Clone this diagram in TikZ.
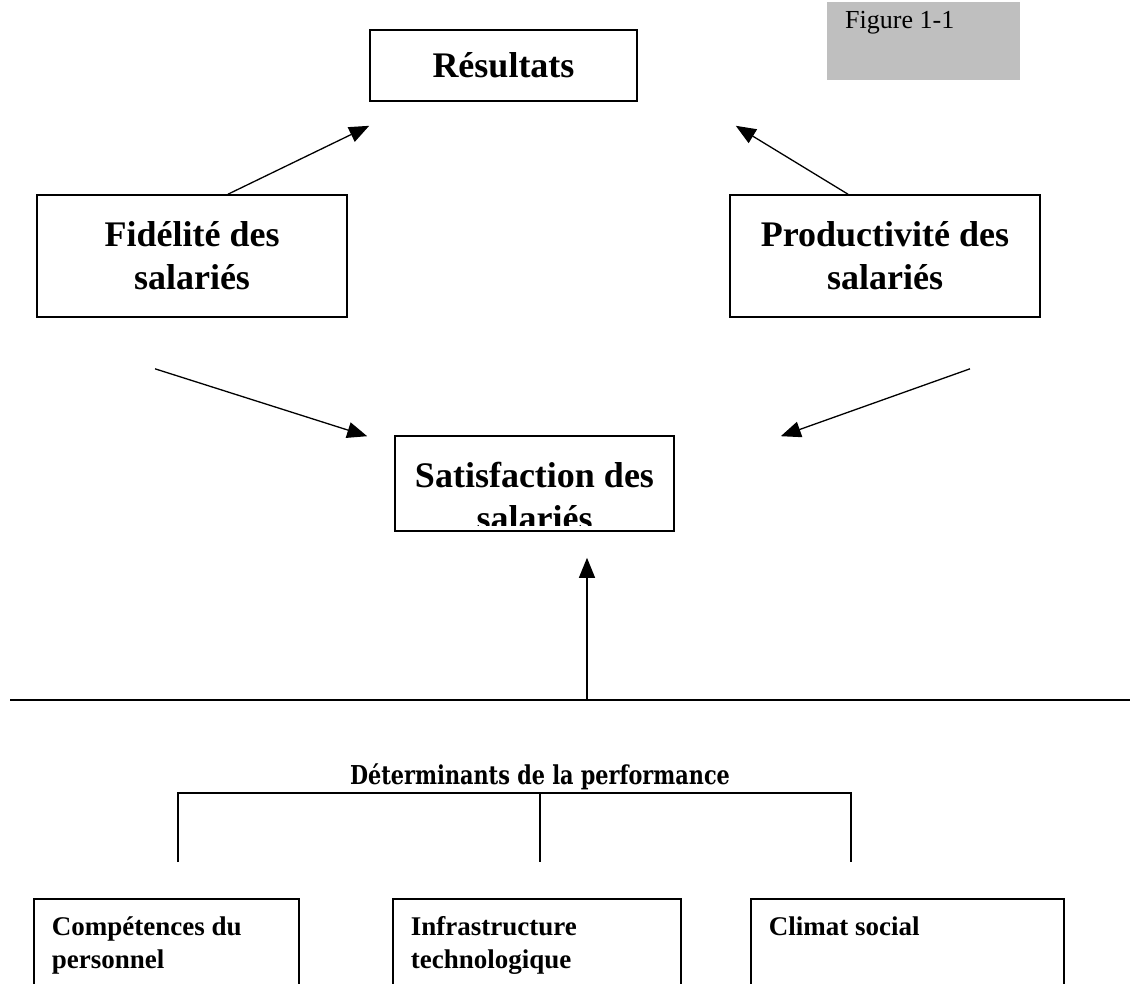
\documentclass[tikz,border=0pt]{standalone}
\usepackage{fontspec}
\setmainfont{Liberation Serif}
\newfontfamily\detfont[FakeStretch=0.8]{DejaVu Serif}
\usetikzlibrary{arrows.meta,positioning,calc}

\tikzset{
  bigbox/.style={draw, line width=1.6pt, inner sep=0pt, align=center,
    font=\fontsize{36}{43}\selectfont\bfseries},
  detbox/.style={draw, line width=1.6pt, anchor=north west, align=flush left,
    inner xsep=18pt, inner ysep=18pt, text depth=70pt,
    font=\fontsize{27}{33}\selectfont\bfseries},
  fleche/.style={-{Triangle[length=20pt,width=16pt]}, line width=1.3pt},
}

\begin{document}
\begin{tikzpicture}[x=1pt,y=-1pt]
    \path[use as bounding box, clip] (0,0) rectangle (1130,983);

    % haut du schema
    \node[bigbox, minimum width=267pt, minimum height=71pt] (res) at (503.5,65.5) {R\'esultats};
    \fill[gray!50] (827,2) rectangle (1020,80);
    \node[anchor=base west, inner sep=0pt, font=\fontsize{26}{30}\selectfont] (fig) at (845,28) {Figure 1-1};

    \node[bigbox, minimum width=310pt, minimum height=122pt] (fid) at (192,256) {Fid\'elit\'e des\\salari\'es};
    \node[bigbox, minimum width=310pt, minimum height=122pt] (prod) at (885,256) {Productivit\'e des\\salari\'es};

    \node[bigbox, minimum width=279pt, minimum height=95pt] (sat) at (534.5,483.5) {};
    \begin{scope}
        \clip ($(sat.north west)$) rectangle ($(sat.south east)+(0,-6)$);
        \node[font=\fontsize{36}{43}\selectfont\bfseries, align=center] (sattxt) at ($(sat.center)+(0,13)$) {Satisfaction des\\salari\'es};
    \end{scope}

    \draw[fleche] ($(fid.north)+(36,0)$) -- ($(res.south west)+(0,24)$);
    \draw[fleche] ($(prod.north)+(-37,0)$) -- ($(res.south east)+(98,24)$);
    \draw[fleche] ($(fid.south)+(-37,51)$) -- ($(sat.north west)+(-27,1)$);
    \draw[fleche] ($(prod.south)+(85,51)$) -- ($(sat.north east)+(106,1)$);

    % ligne de separation
    \coordinate (lg) at (10,700);
    \coordinate (ld) at (1130,700);
    \draw[line width=2.4pt] (lg) -- (ld);
    \draw[fleche] (lg -| 587,0) -- ($(sat.south)+(52.5,26)$);

    % determinants
    \node[anchor=base, inner sep=0pt, font=\fontsize{26}{30}\selectfont\detfont\bfseries] (det) at (540,784) {D\'eterminants de la performance};
    \draw[line width=1.4pt] (178,862) -- (178,793) -- (851,793) -- (851,862);
    \draw[line width=1.4pt] (540,793) -- (540,862);

    \node[detbox, text width=229pt] (comp) at (33,898) {Comp\'etences du\\personnel};
    \node[detbox, text width=252pt] (infra) at (392,898) {Infrastructure\\technologique};
    \node[detbox, text width=277pt] (climat) at (750,898) {Climat social\\\mbox{}};
\end{tikzpicture}
\end{document}
